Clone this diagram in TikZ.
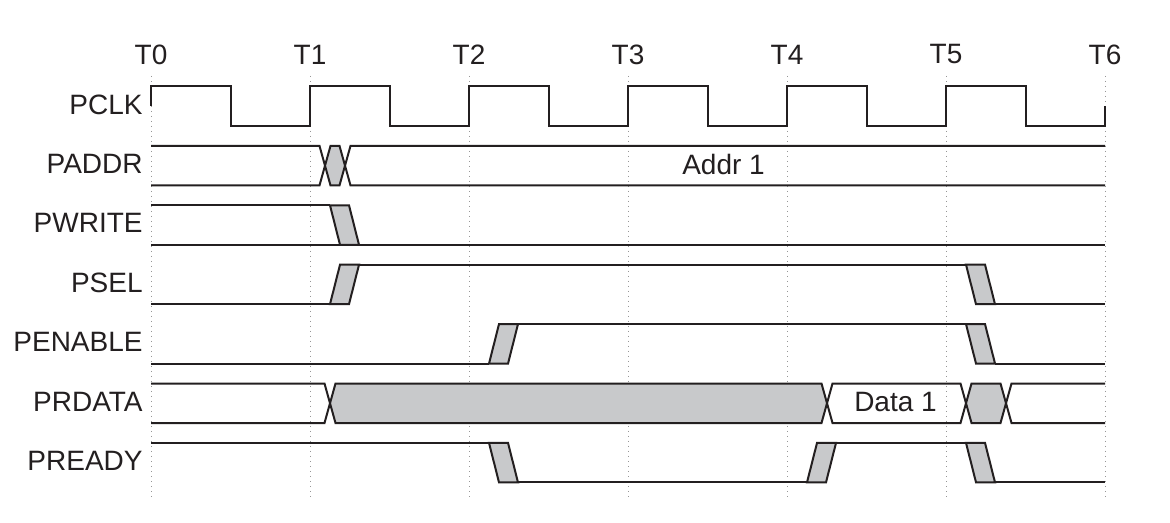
\documentclass[tikz,border=0pt]{standalone}
\usepackage{fontspec}
\setmainfont{Liberation Sans}
\definecolor{ink}{RGB}{35,31,32}
\definecolor{busGrey}{RGB}{200,201,203}
\definecolor{gridGrey}{RGB}{150,150,150}
\begin{document}
\begin{tikzpicture}
[x=0.5pt,y=-0.5pt,font=\fontsize{14}{16}\selectfont,%
  waveDecorate/.style={draw=ink,line width=1pt,line join=miter},%
  busDecorate/.style={waveDecorate,fill=busGrey},%
  gridDecorate/.style={draw=gridGrey,line width=0.5pt,dash pattern=on 0.6pt off 1.9pt},%
  labelDecorate/.style={text=ink,inner sep=0pt}]
\useasboundingbox (0,0) rectangle (1170,523);
%% time marks and grid lines
\foreach \k in {0,...,6}
{
  \draw[gridDecorate] ({151+159*\k},76) -- ({151+159*\k},500);
  \node (T\k) at ({151+159*\k},54.5) [labelDecorate] {T\k};
}
%% signal names
\foreach \signame/\row in {
  PCLK/0, PADDR/1, PWRITE/2, PSEL/3, PENABLE/4, PRDATA/5, PREADY/6}
{
  \node (\signame) at (143,{104.5+59.4*\row}) [labelDecorate,anchor=east] {\signame};
}
%% PCLK
\draw[waveDecorate] (151,106.25)
  \foreach \k in {0,...,5}
  { -- ({151+159*\k},86.5) -- ({230.5+159*\k},86.5) -- ({230.5+159*\k},126) -- ({310+159*\k},126) }
  -- (1105,106.25);
%% PADDR
\draw[waveDecorate] (151,145.9) -- (319.5,145.9) -- (325,165.65) -- (319.5,185.4) -- (151,185.4);
\draw[busDecorate] (325,165.65) -- (330.5,145.9) -- (339.5,145.9) -- (345,165.65) -- (339.5,185.4) -- (330.5,185.4) -- cycle;
\draw[waveDecorate] (1105,145.9) -- (350.5,145.9) -- (345,165.65) -- (350.5,185.4) -- (1105,185.4);
\node (addr) at (723.5,164.5) [labelDecorate] {Addr 1};
%% PWRITE
\draw[waveDecorate] (151,205.3) -- (330,205.3);
\draw[waveDecorate] (151,244.8) -- (1105,244.8);
\draw[busDecorate] (330,205.3) -- (349,205.3) -- (359,244.8) -- (340,244.8) -- cycle;
%% PSEL
\draw[waveDecorate] (151,304.2) -- (330,304.2);
\draw[busDecorate] (330,304.2) -- (349,304.2) -- (359,264.7) -- (340,264.7) -- cycle;
\draw[waveDecorate] (359,264.7) -- (966,264.7);
\draw[busDecorate] (966,264.7) -- (985,264.7) -- (995,304.2) -- (976,304.2) -- cycle;
\draw[waveDecorate] (995,304.2) -- (1105,304.2);
%% PENABLE
\draw[waveDecorate] (151,363.6) -- (489,363.6);
\draw[busDecorate] (489,363.6) -- (508,363.6) -- (518,324.1) -- (499,324.1) -- cycle;
\draw[waveDecorate] (518,324.1) -- (966,324.1);
\draw[busDecorate] (966,324.1) -- (985,324.1) -- (995,363.6) -- (976,363.6) -- cycle;
\draw[waveDecorate] (995,363.6) -- (1105,363.6);
%% PRDATA
\draw[waveDecorate] (151,383.5) -- (324.5,383.5) -- (330,403.25) -- (324.5,423) -- (151,423);
\draw[busDecorate] (330,403.25) -- (335.5,383.5) -- (821.5,383.5) -- (827,403.25) -- (821.5,423) -- (335.5,423) -- cycle;
\draw[waveDecorate] (827,403.25) -- (832.5,383.5) -- (960.5,383.5) -- (966,403.25) -- (960.5,423) -- (832.5,423) -- cycle;
\draw[busDecorate] (966,403.25) -- (971.5,383.5) -- (1000.5,383.5) -- (1006,403.25) -- (1000.5,423) -- (971.5,423) -- cycle;
\draw[waveDecorate] (1105,383.5) -- (1011.5,383.5) -- (1006,403.25) -- (1011.5,423) -- (1105,423);
\node (data) at (895.5,402.5) [labelDecorate] {Data 1};
%% PREADY
\draw[waveDecorate] (151,442.9) -- (489,442.9);
\draw[busDecorate] (489,442.9) -- (508,442.9) -- (518,482.4) -- (499,482.4) -- cycle;
\draw[waveDecorate] (518,482.4) -- (807,482.4);
\draw[busDecorate] (807,482.4) -- (826,482.4) -- (836,442.9) -- (817,442.9) -- cycle;
\draw[waveDecorate] (836,442.9) -- (966,442.9);
\draw[busDecorate] (966,442.9) -- (985,442.9) -- (995,482.4) -- (976,482.4) -- cycle;
\draw[waveDecorate] (995,482.4) -- (1105,482.4);
\end{tikzpicture}
\end{document}
